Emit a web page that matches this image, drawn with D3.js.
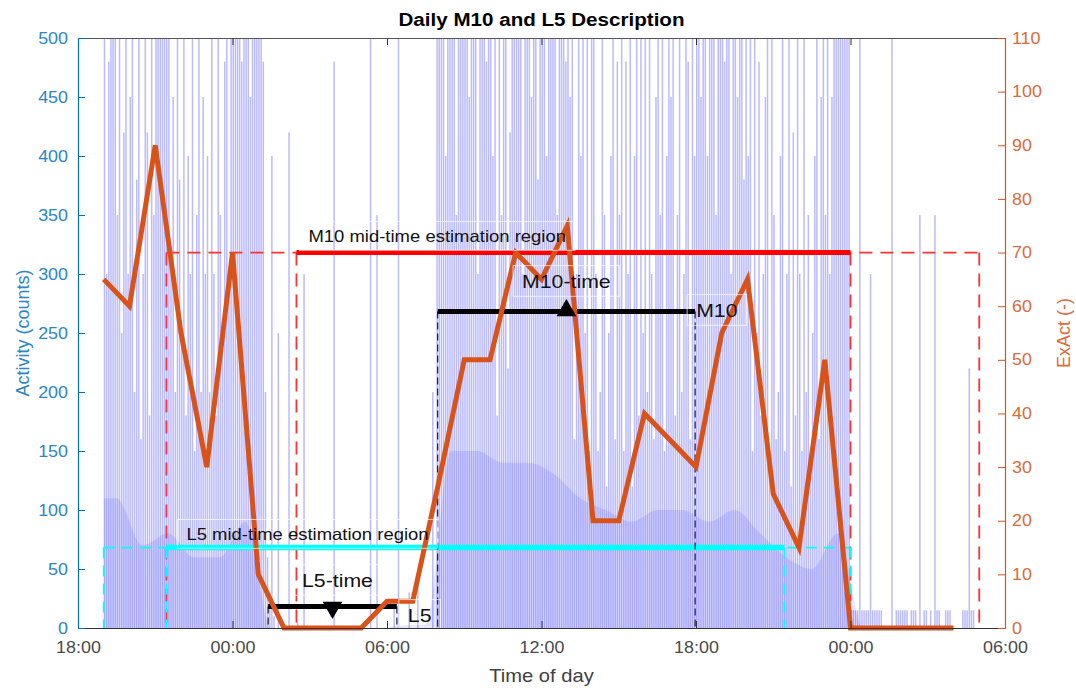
<!DOCTYPE html>
<html>
<head>
<meta charset="utf-8">
<script src="https://cdn.jsdelivr.net/npm/d3@7"></script>
<style>
  body { margin: 0; background: #fff; }
  svg text { font-family: "Liberation Sans", Arial, Helvetica, sans-serif; }
</style>
</head>
<body>
<div id="chart"></div>
<script>
// ---------- data ----------
// activity counts, 5-minute bins from 19:00 (day 0), one row per hour
const activityStart = new Date(2020, 0, 1, 19, 0);
const activity5min = [
  520, 300, 480, 520, 520, 520, 350, 520, 250, 420, 520, 300, // 19:00
  450, 520, 200, 380, 520, 160, 300, 520, 420, 180, 520, 350, // 20:00
  520, 520, 520, 520, 520, 520, 520, 300, 450, 200, 520, 380, // 21:00
  250, 520, 180, 400, 300, 520, 150, 350, 520, 200, 450, 300, // 22:00
  400, 200, 520, 300, 180, 520, 350, 250, 480, 520, 300, 520, // 23:00
  520, 520, 520, 520, 480, 520, 520, 520, 450, 520, 520, 520, // 00:00
  520, 520, 480, 200, 60, 30, 400, 10, 0, 250, 0, 0,          // 01:00
  0, 0, 420, 0, 0, 0, 5, 0, 0, 300, 0, 0,                     // 02:00
  0, 0, 0, 0, 0, 0, 0, 0, 0, 0, 0, 480,                       // 03:00
  0, 0, 0, 0, 0, 0, 0, 0, 0, 0, 0, 0,                         // 04:00
  0, 0, 0, 0, 520, 0, 0, 350, 0, 0, 0, 0,                     // 05:00
  0, 0, 0, 20, 0, 500, 0, 0, 0, 0, 30, 0,                     // 06:00
  0, 0, 40, 0, 0, 0, 0, 0, 0, 200, 0, 520,                    // 07:00
  520, 520, 520, 400, 520, 520, 520, 520, 350, 520, 520, 520, // 08:00
  520, 520, 450, 520, 520, 520, 300, 520, 520, 520, 480, 520, // 09:00
  520, 400, 520, 180, 520, 350, 520, 520, 220, 420, 520, 520, // 10:00
  520, 520, 520, 300, 520, 520, 520, 450, 520, 520, 380, 520, // 11:00
  520, 520, 400, 520, 520, 520, 520, 350, 520, 520, 520, 480, // 12:00
  520, 450, 520, 160, 300, 520, 400, 520, 250, 520, 150, 520, // 13:00
  520, 300, 150, 200, 520, 350, 120, 250, 400, 520, 160, 480, // 14:00
  350, 520, 150, 480, 300, 520, 120, 400, 520, 180, 520, 250, // 15:00
  520, 200, 520, 300, 160, 450, 520, 350, 520, 150, 400, 520, // 16:00
  450, 520, 180, 350, 520, 200, 300, 520, 480, 160, 520, 400, // 17:00
  520, 520, 450, 520, 520, 400, 520, 520, 520, 350, 520, 520, // 18:00
  520, 480, 520, 520, 300, 520, 520, 450, 520, 520, 380, 520, // 19:00
  400, 520, 150, 520, 250, 480, 180, 300, 450, 520, 140, 520, // 20:00
  350, 160, 200, 400, 520, 150, 300, 520, 120, 420, 180, 520, // 21:00
  300, 150, 520, 200, 350, 130, 250, 400, 520, 160, 450, 520, // 22:00
  350, 520, 300, 450, 520, 520, 520, 520, 520, 520, 520, 520, // 23:00
  15, 15, 15, 15, 520, 15, 15, 15, 15, 300, 15, 15,           // 00:00
  15, 15, 15, 0, 0, 0, 0, 520, 0, 15, 15, 15,                 // 01:00
  15, 15, 15, 0, 15, 15, 15, 0, 350, 0, 15, 15,               // 02:00
  0, 15, 0, 350, 15, 15, 0, 0, 15, 15, 15, 0,                 // 03:00
  0, 0, 0, 0, 15, 15, 15, 220, 15, 15, 0, 0                   // 04:00
];
// level most minutes of each hour reach (hourly, from 19:00 day 0)
const activityFloor = [110, 70, 80, 60, 60, 90, 0, 0, 0, 0, 0, 2, 3,
  150, 150, 140, 140, 130, 110, 100, 90, 100, 100, 90, 100, 80, 60, 50, 80,
  0, 0, 0, 0, 0];

// ExAct, hourly from 19:00 (day 0) to 04:00 (day 2)
const exactStart = new Date(2020, 0, 1, 19, 0);
const exactValues = [65, 60, 90, 55, 30,
  70, 10, 0, 0, 0, 0, 5, 5, 27, 50, 50, 70, 65, 75, 20, 20, 40, 35, 30, 55, 65, 25, 15, 50,
  0, 0, 0, 0, 0];

// estimation regions and windows
const m10Region = { start: new Date(2020, 0, 1, 21, 26), solidStart: new Date(2020, 0, 2, 2, 29),
                    solidEnd: new Date(2020, 0, 3, 0, 0), end: new Date(2020, 0, 3, 5, 0), level: 70 };
const l5Region = { start: new Date(2020, 0, 1, 19, 0), solidStart: new Date(2020, 0, 1, 21, 26),
                   solidEnd: new Date(2020, 0, 2, 21, 26), end: new Date(2020, 0, 3, 0, 0), level: 15 };
const m10Window = { start: new Date(2020, 0, 2, 7, 58), end: new Date(2020, 0, 2, 17, 58), level: 59 };
const l5Window = { start: new Date(2020, 0, 2, 1, 23), end: new Date(2020, 0, 2, 6, 23), level: 4 };

const leftTicks = [0, 50, 100, 150, 200, 250, 300, 350, 400, 450, 500];
const rightTicks = [0, 10, 20, 30, 40, 50, 60, 70, 80, 90, 100, 110];

// ---------- chart ----------
const W = 1076, H = 688;
const margin = { top: 38, right: 71, bottom: 60, left: 78 };
const x0 = margin.left, x1 = W - margin.right, y0 = margin.top, y1 = H - margin.bottom;

const blue = "#0072BD", orange = "#D95319", grey = "#333333";
const STRETCH = 1.12;   // the reference text is a little wider than Arial

const svg = d3.select("#chart").append("svg")
  .attr("width", W).attr("height", H);

const x = d3.scaleTime()
  .domain([new Date(2020, 0, 1, 18), new Date(2020, 0, 3, 6)])
  .range([x0, x1]);
const yL = d3.scaleLinear().domain([0, 500]).range([y1, y0]);
const yR = d3.scaleLinear().domain([0, 110]).range([y1, y0]);

function widen(sel, origin) {
  sel.style("transform-box", "fill-box")
    .style("transform-origin", origin)
    .style("transform", `scaleX(${STRETCH})`);
}

svg.append("clipPath").attr("id", "plot-clip")
  .append("rect").attr("x", x0).attr("y", y0).attr("width", x1 - x0).attr("height", y1 - y0);

// activity bars
const bars = svg.append("g").attr("clip-path", "url(#plot-clip)");
const hourMs = 3600 * 1000, binMs = 5 * 60 * 1000;
const tBin = i => new Date(+activityStart + i * binMs);

// smooth band for the level most minutes reach
const floorPts = activityFloor.map((v, i) => [new Date(+activityStart + (i + 0.5) * hourMs), v]);
floorPts.unshift([activityStart, activityFloor[0]]);
const floorArea = d3.area()
  .x(d => x(d[0]))
  .y0(yL(0))
  .y1(d => yL(d[1]))
  .curve(d3.curveMonotoneX);
bars.append("path")
  .datum(floorPts)
  .attr("d", floorArea)
  .attr("fill", "#0000ff")
  .attr("fill-opacity", 0.1);

bars.selectAll("rect.act")
  .data(activity5min)
  .join("rect")
  .attr("class", "act")
  .attr("x", (d, i) => x(tBin(i)))
  .attr("width", 1.5)
  .attr("y", d => yL(d))
  .attr("height", d => yL(0) - yL(d))
  .attr("fill", "#0000ff")
  .attr("fill-opacity", 0.27);

// helpers for the annotation lines
const ann = svg.append("g");
function hline(t0, t1, v, color, width, dash) {
  ann.append("line")
    .attr("x1", x(t0)).attr("x2", x(t1))
    .attr("y1", yR(v)).attr("y2", yR(v))
    .attr("stroke", color).attr("stroke-width", width)
    .attr("stroke-dasharray", dash || null);
}
function vline(t, v0, v1, color, width, dash) {
  ann.append("line")
    .attr("x1", x(t)).attr("x2", x(t))
    .attr("y1", yR(v0)).attr("y2", yR(v1))
    .attr("stroke", color).attr("stroke-width", width)
    .attr("stroke-dasharray", dash || null);
}

// M10 estimation region (red)
const redDash = "#ff3030";
hline(m10Region.start, m10Region.end, m10Region.level, redDash, 1.8, "13,8");
[m10Region.start, m10Region.solidStart, m10Region.solidEnd, m10Region.end]
  .forEach(t => vline(t, m10Region.level, 0, redDash, 1.8, "13,8"));
hline(m10Region.solidStart, m10Region.solidEnd, m10Region.level, "#ff0000", 5);

// L5 estimation region (cyan)
hline(l5Region.start, l5Region.end, l5Region.level, "#00ffff", 1.8, "11,7");
[l5Region.start, l5Region.solidStart, l5Region.solidEnd, l5Region.end]
  .forEach(t => vline(t, l5Region.level, 0, "#00ffff", 1.8, "11,7"));
hline(l5Region.solidStart, l5Region.solidEnd, l5Region.level, "#00ffff", 5.5);

// M10 / L5 windows (black)
[m10Window, l5Window].forEach(w => {
  vline(w.start, w.level, 0, "#222", 1.2, "7,4");
  vline(w.end, w.level, 0, "#222", 1.2, "7,4");
  hline(w.start, w.end, w.level, "#000", 5);
});

// ExAct line
const line = d3.line()
  .x((d, i) => x(new Date(+exactStart + i * hourMs)))
  .y(d => yR(d));
svg.append("path")
  .datum(exactValues)
  .attr("d", line)
  .attr("fill", "none")
  .attr("stroke", orange)
  .attr("stroke-width", 5)
  .attr("stroke-linejoin", "miter");

// mid-time markers
const tri = d3.symbol().type(d3.symbolTriangle).size(170);
const m10Mid = new Date((+m10Window.start + +m10Window.end) / 2);
const l5Mid = new Date((+l5Window.start + +l5Window.end) / 2);
svg.append("path").attr("d", tri())
  .attr("transform", `translate(${x(m10Mid)},${yR(m10Window.level) - 1})`)
  .attr("fill", "#000");
svg.append("path").attr("d", tri())
  .attr("transform", `translate(${x(l5Mid)},${yR(l5Window.level) + 1}) rotate(180)`)
  .attr("fill", "#000");

// annotation texts with faint boxes
const labels = svg.append("g");
function note(text, px, py, size, anchor) {
  const t = labels.append("text")
    .attr("x", px).attr("y", py)
    .attr("font-size", size)
    .attr("fill", "#111")
    .attr("text-anchor", anchor || "start")
    .text(text);
  widen(t, anchor === "middle" ? "center" : "left center");
  const b = t.node().getBBox();
  const w = b.width * STRETCH;
  const left = anchor === "middle" ? b.x + b.width / 2 - w / 2 : b.x;
  labels.insert("rect", "text")
    .attr("x", left - 9).attr("y", b.y - 5)
    .attr("width", w + 18).attr("height", b.height + 10)
    .attr("fill", "none")
    .attr("stroke", "rgba(255,255,255,0.7)")
    .attr("stroke-width", 1);
}
note("M10 mid-time estimation region", x(m10Region.solidStart) + 12, yR(m10Region.level) - 11, 16.5);
note("L5 mid-time estimation region", x(l5Region.solidStart) + 20, yR(l5Region.level) - 8, 16.5);
note("M10-time", x(m10Mid), yR(m10Window.level) - 24, 19, "middle");
note("M10", x(m10Window.end) + 1, yR(m10Window.level) + 5, 19);
note("L5-time", x(l5Mid) + 5, yR(l5Window.level) - 20, 19, "middle");
note("L5", x(l5Window.end) + 11, yR(l5Window.level) + 15, 19);

// ---------- axes ----------
const xAxis = svg.append("g")
  .attr("transform", `translate(0,${y1})`)
  .call(d3.axisBottom(x)
    .ticks(d3.timeHour.every(6))
    .tickFormat(d3.timeFormat("%H:%M"))
    .tickSizeInner(-7).tickSizeOuter(0).tickPadding(14));
xAxis.select(".domain").attr("stroke", grey);
xAxis.selectAll(".tick line").attr("stroke", grey);
xAxis.selectAll(".tick text").attr("font-size", 16).attr("fill", "#4a4a4a")
  .call(s => widen(s, "center"));

const xTop = svg.append("g")
  .attr("transform", `translate(0,${y0})`)
  .call(d3.axisTop(x)
    .ticks(d3.timeHour.every(6))
    .tickFormat("")
    .tickSizeInner(-7).tickSizeOuter(0));
xTop.select(".domain").attr("stroke", "#555");
xTop.selectAll(".tick line").attr("stroke", grey);

const leftAxis = svg.append("g")
  .attr("transform", `translate(${x0},0)`)
  .call(d3.axisLeft(yL).tickValues(leftTicks)
    .tickSizeInner(-7).tickSizeOuter(0).tickPadding(10));
leftAxis.select(".domain").attr("stroke", blue).attr("stroke-width", 1.2);
leftAxis.selectAll(".tick line").attr("stroke", blue);
leftAxis.selectAll(".tick text").attr("font-size", 16).attr("fill", "#2a86c8")
  .call(s => widen(s, "right center"));

const rightAxis = svg.append("g")
  .attr("transform", `translate(${x1},0)`)
  .call(d3.axisRight(yR).tickValues(rightTicks)
    .tickSizeInner(-7).tickSizeOuter(0).tickPadding(7));
rightAxis.select(".domain").attr("stroke", orange).attr("stroke-width", 1.2);
rightAxis.selectAll(".tick line").attr("stroke", orange);
rightAxis.selectAll(".tick text").attr("font-size", 16).attr("fill", "#dc6a3a")
  .call(s => widen(s, "left center"));

// axis labels and title
const xl = svg.append("text")
  .attr("x", (x0 + x1) / 2).attr("y", 682)
  .attr("text-anchor", "middle")
  .attr("font-size", 18).attr("fill", "#404040")
  .text("Time of day");
widen(xl, "center");

svg.append("g").attr("transform", `translate(29,${(y0 + y1) / 2}) rotate(-90)`)
  .append("text")
  .attr("text-anchor", "middle")
  .attr("font-size", 18).attr("fill", "#2a86c8")
  .text("Activity (counts)");

svg.append("g").attr("transform", `translate(1070,${(y0 + y1) / 2}) rotate(-90)`)
  .append("text")
  .attr("text-anchor", "middle")
  .attr("font-size", 18).attr("fill", "#dc6a3a")
  .text("ExAct (-)");

const title = svg.append("text")
  .attr("x", (x0 + x1) / 2).attr("y", 26)
  .attr("text-anchor", "middle")
  .attr("font-size", 18.4).attr("font-weight", "bold").attr("fill", "#000")
  .text("Daily M10 and L5 Description");
widen(title, "center");
</script>
</body>
</html>
